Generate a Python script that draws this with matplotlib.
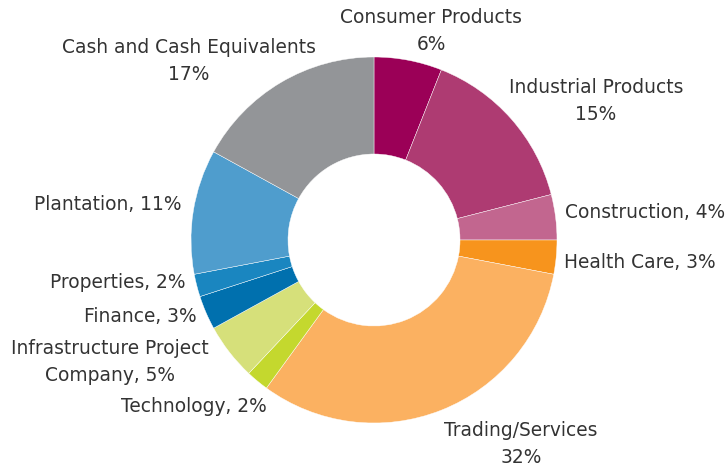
import matplotlib
matplotlib.use("Agg")
import matplotlib.pyplot as plt

categories = ["Consumer Products", "Industrial Products", "Construction", "Health Care",
              "Trading/Services", "Technology", "Infrastructure Project\nCompany",
              "Finance", "Properties", "Plantation", "Cash and Cash Equivalents"]
values = [6, 15, 4, 3, 32, 2, 5, 3, 2, 11, 17]
colors = ["#9B0057", "#AE3B72", "#C2668F", "#F7941D", "#FBB161", "#C4D82E",
          "#D6E07A", "#0070AE", "#1A86C0", "#4F9DCD", "#939598"]

# label text layout: (style, x_px, y_px, ha)
label_layout = [
    ("two", 431, 31, "center"),
    ("two", 596, 101, "center"),
    ("one", 565, 213, "left"),
    ("one", 564, 262, "left"),
    ("two", 521, 444, "center"),
    ("one", 267, 407, "right"),
    ("one", 110, 362, "center"),
    ("one", 197, 317, "right"),
    ("one", 185, 283, "right"),
    ("one", 182, 205, "right"),
    ("two", 189, 61, "center"),
]

W, H = 728, 466
fig = plt.figure(figsize=(W / 100, H / 100), dpi=100)
cx, cy, R = 374, 240, 183
ax = fig.add_axes([(cx - R) / W, (H - cy - R) / H, 2 * R / W, 2 * R / H])
ax.pie(values, colors=colors, startangle=90, counterclock=False, radius=1,
       wedgeprops=dict(width=0.53, edgecolor="white", linewidth=0.3))
ax.set_xlim(-1, 1)
ax.set_ylim(-1, 1)
ax.set_aspect("equal")
ax.axis("off")

for cat, val, (style, x, y, ha) in zip(categories, values, label_layout):
    if style == "two":
        txt = f"{cat}\n{val}%"
    else:
        txt = f"{cat}, {val}%"
    fig.text(x / W, 1 - y / H, txt, ha=ha, va="center", multialignment="center",
             fontsize=13.4, color="#333333", linespacing=1.5, family="DejaVu Sans")

fig.savefig("out.png", dpi=100)
